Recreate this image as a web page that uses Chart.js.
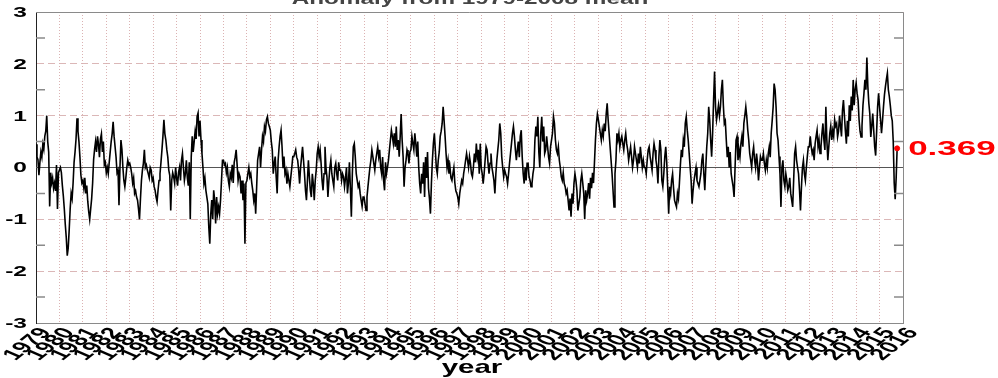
<!DOCTYPE html>
<html>
<head>
<meta charset="utf-8">
<script src="https://cdn.jsdelivr.net/npm/chart.js@4.4.1/dist/chart.umd.min.js"></script>
<style>
html, body { margin: 0; padding: 0; background: #fff; }
#wrap { width: 998px; height: 378px; }
</style>
</head>
<body>
<div id="wrap"><canvas id="anomaly-canvas" width="998" height="378"></canvas></div>
<script>
var startYear = 1979
var samplesPerYear = 24

// anomaly, 24 samples per year (last year ends in autumn 2015)
var anomaly = [
    0.45, 0.2, 0.15, -0.15, 0.1, 0.3, 0.2, 0.45, 0.35, 0.6, 0.7, 1.0, 0.5, 0.3, -0.75, -0.1, -0.3, -0.2, -0.4, -0.3, -0.45, 0.05, -0.8, -0.1,
    -0.05, 0.0, -0.1, -0.35, -0.55, -0.8, -1.1, -1.35, -1.7, -1.55, -1.2, -0.8, -0.5, -0.6, -0.3, 0.1, 0.3, 0.55, 0.95, 0.7, 0.5, 0.2, -0.15, -0.3,
    -0.25, -0.4, -0.2, -0.5, -0.35, -0.65, -0.85, -1.0, -0.8, -0.6, -0.3, 0.15, 0.35, 0.5, 0.3, 0.6, 0.45, 0.2, 0.55, 0.65, 0.3, 0.5, 0.05, 0.1,
    -0.1, 0.0, -0.12, 0.1, 0.3, 0.5, 0.65, 0.88, 0.6, 0.4, 0.2, -0.1, -0.05, -0.73, 0.0, 0.53, 0.35, 0.0, -0.25, -0.37, -0.2, 0.0, 0.14, 0.05,
    0.08, 0.0, -0.12, -0.3, -0.2, -0.5, -0.45, -0.57, -0.63, -0.8, -1.0, -0.6, -0.25, -0.05, 0.08, 0.34, 0.0, 0.05, -0.05, -0.12, -0.2, 0.0, -0.05, -0.25,
    -0.2, -0.37, -0.44, -0.57, -0.66, -0.44, -0.25, -0.12, 0.1, 0.34, 0.6, 0.92, 0.65, 0.53, 0.34, 0.2, -0.05, -0.15, -0.83, -0.25, -0.1, -0.18, -0.3, 0.0,
    -0.2, -0.35, -0.1, 0.0, -0.25, 0.14, 0.27, 0.0, -0.25, -0.12, 0.14, -0.2, -0.35, 0.1, -1.0, 0.2, 0.6, 0.3, 0.5, 0.7, 0.55, 0.98, 1.05, 0.6,
    0.9, 0.53, 0.27, 0.0, -0.31, -0.2, -0.44, -0.57, -0.7, -1.15, -1.47, -0.9, -0.63, -1.0, -0.44, -0.63, -1.08, -0.57, -0.89, -0.76, -0.89, -0.63, -0.25, 0.14,
    0.14, 0.05, 0.08, -0.1, 0.0, -0.25, -0.37, -0.12, -0.2, 0.05, -0.3, 0.1, 0.2, 0.34, 0.05, -0.25, -0.12, -0.18, -0.5, -0.25, -0.63, -0.31, -1.47, -0.3,
    -0.25, -0.12, 0.0, -0.18, -0.12, -0.3, -0.44, -0.63, -0.5, -0.89, -0.37, 0.14, 0.27, 0.4, 0.0, 0.34, 0.6, 0.5, 0.79, 0.7, 0.92, 0.98, 0.85, 0.79,
    0.72, 0.5, 0.34, -0.12, 0.08, 0.21, -0.18, -0.5, 0.14, 0.4, 0.6, 0.72, 0.4, 0.0, 0.21, -0.12, -0.05, -0.31, -0.12, -0.25, -0.37, -0.18, 0.0, 0.21,
    0.21, 0.27, 0.34, 0.2, 0.14, -0.05, -0.31, 0.0, 0.2, 0.4, 0.14, -0.12, -0.44, -0.63, -0.25, 0.14, -0.18, -0.44, -0.57, -0.12, -0.31, -0.63, -0.25, -0.05,
    0.27, 0.4, 0.21, 0.34, 0.08, -0.25, -0.44, -0.12, 0.4, 0.0, -0.18, -0.57, -0.25, 0.0, 0.14, -0.12, -0.25, -0.37, 0.0, 0.08, -0.12, -0.25, 0.1, -0.05,
    -0.05, -0.25, -0.12, -0.18, -0.37, -0.2, 0.0, -0.5, -0.3, 0.1, -0.4, -0.95, -0.12, 0.4, 0.46, 0.21, -0.12, -0.25, -0.37, -0.31, -0.5, -0.63, -0.75, -0.57,
    -0.57, -0.7, -0.83, -0.57, -0.37, -0.18, 0.0, 0.14, 0.34, 0.21, 0.08, -0.05, 0.14, 0.27, 0.4, 0.21, 0.34, 0.0, -0.12, 0.2, -0.25, -0.44, 0.1, -0.12,
    0.0, 0.14, 0.34, 0.53, 0.72, 0.6, 0.46, 0.66, 0.4, 0.79, 0.34, 0.53, 0.21, 0.6, 1.03, 0.53, 0.21, -0.37, 0.0, 0.14, 0.34, 0.27, 0.08, 0.3,
    0.34, 0.6, 0.46, 0.34, 0.66, 0.46, 0.21, 0.5, 0.0, -0.31, -0.5, -0.12, -0.31, 0.1, -0.57, 0.2, -0.2, 0.3, -0.4, -0.6, -0.89, -0.3, 0.14, 0.46,
    0.66, 0.34, 0.0, -0.12, 0.14, 0.3, 0.6, 0.7, 0.85, 1.17, 0.9, 0.6, 0.27, 0.0, 0.14, -0.12, 0.0, -0.2, -0.25, -0.12, 0.0, -0.3, -0.45, -0.5,
    -0.57, -0.7, -0.5, -0.37, -0.25, -0.31, -0.12, 0.0, 0.14, 0.27, 0.14, 0.0, 0.21, 0.08, -0.12, -0.18, 0.0, 0.27, 0.1, 0.46, 0.2, 0.34, -0.12, 0.46,
    0.0, -0.12, -0.31, -0.12, 0.14, 0.4, 0.34, 0.08, -0.12, 0.08, 0.27, 0.0, -0.12, -0.25, -0.5, -0.12, 0.14, 0.34, 0.53, 0.85, 0.66, 0.21, 0.0, -0.18,
    -0.05, -0.12, -0.18, -0.31, -0.12, 0.08, 0.27, 0.46, 0.66, 0.79, 0.6, 0.34, 0.14, 0.34, 0.5, 0.2, 0.6, 0.72, 0.2, -0.12, -0.31, 0.0, -0.25, 0.08,
    0.08, -0.18, -0.25, -0.37, -0.31, -0.12, 0.0, 0.53, 0.79, 0.6, 0.98, 0.3, 0.0, 0.66, 0.98, 0.5, 0.79, 0.27, 0.34, 0.6, 0.4, 0.2, 0.08, 0.4,
    0.53, 0.66, 0.98, 0.85, 0.53, 0.34, 0.27, 0.4, 0.14, 0.0, -0.18, -0.25, -0.1, -0.31, -0.37, -0.5, -0.44, -0.63, -0.83, -0.6, -0.95, -0.5, -0.7, -0.31,
    -0.12, -0.25, -0.44, -0.83, -0.7, -0.57, -0.25, -0.12, -0.3, -0.5, -1.0, -0.44, -0.63, -0.5, -0.3, -0.6, -0.2, -0.4, -0.1, -0.3, 0.1, 0.53, 0.85, 1.03,
    0.92, 0.79, 0.66, 0.53, 0.72, 0.6, 0.85, 0.7, 1.03, 1.24, 0.92, 0.66, 0.4, 0.14, -0.12, -0.44, -0.76, -0.12, 0.14, 0.66, 0.53, 0.66, 0.4, 0.53,
    0.6, 0.46, 0.34, 0.53, 0.66, 0.46, 0.34, 0.14, 0.27, 0.4, 0.21, 0.0, 0.14, 0.4, 0.27, 0.14, 0.0, 0.27, 0.08, 0.4, 0.2, 0.0, 0.14, 0.0,
    0.0, -0.12, 0.14, 0.34, 0.4, 0.21, 0.08, -0.05, 0.27, 0.46, 0.34, 0.14, 0.0, -0.31, 0.21, 0.53, 0.34, -0.25, -0.37, -0.12, 0.2, 0.4, 0.1, -0.37,
    -0.89, -0.37, -0.5, -0.25, -0.12, -0.4, -0.63, -0.7, -0.76, -0.5, -0.6, -0.3, 0.05, 0.34, 0.2, 0.53, 0.4, 0.85, 0.98, 0.72, 0.53, 0.27, 0.0, -0.25,
    -0.7, -0.44, -0.25, -0.12, 0.0, -0.25, -0.31, -0.37, -0.25, -0.12, 0.14, 0.27, -0.12, -0.44, 0.0, 0.4, 0.66, 1.17, 0.92, 0.53, 0.21, 0.66, 1.3, 1.85,
    1.17, 0.92, 1.05, 1.2, 1.0, 1.17, 1.5, 1.69, 1.2, 0.85, 0.9, 0.53, 0.2, 0.4, 0.0, 0.3, -0.12, -0.25, -0.37, -0.57, 0.0, 0.53, 0.6, 0.14,
    0.34, 0.2, 0.46, 0.6, 0.4, 0.85, 1.0, 1.17, 0.98, 0.72, 0.53, 0.27, 0.14, 0.0, 0.27, 0.4, 0.14, 0.0, 0.27, 0.08, -0.25, 0.0, 0.21, 0.14,
    0.14, 0.27, 0.08, -0.05, 0.14, 0.0, 0.27, 0.4, 0.2, 0.66, 0.9, 1.17, 1.62, 1.5, 1.17, 0.66, 0.53, 0.21, -0.12, -0.76, 0.0, 0.14, -0.25, -0.37,
    -0.12, -0.25, -0.44, -0.37, -0.2, -0.5, -0.63, -0.76, -0.25, 0.27, 0.4, 0.14, 0.0, -0.12, -0.44, -0.83, -0.37, 0.0, 0.14, -0.12, -0.25, 0.0, 0.21, 0.4,
    0.4, 0.6, 0.4, 0.27, 0.34, 0.14, 0.46, 0.6, 0.72, 0.4, 0.53, 0.27, 0.4, 0.66, 0.85, 0.53, 0.34, 1.17, 0.53, 0.14, 0.4, 0.66, 0.8, 0.53,
    0.71, 0.6, 0.92, 0.8, 0.85, 0.59, 0.7, 1.0, 0.8, 0.6, 1.1, 1.3, 1.0, 0.7, 0.46, 0.9, 0.6, 1.2, 0.9, 1.37, 1.1, 1.69, 1.2, 1.5,
    1.63, 1.43, 1.3, 0.92, 0.7, 0.59, 0.8, 1.2, 1.43, 1.69, 1.5, 2.12, 1.56, 1.24, 1.04, 0.59, 0.8, 1.04, 0.72, 0.4, 0.23, 0.7, 1.17, 1.43,
    1.17, 0.92, 0.66, 0.9, 1.17, 1.4, 1.56, 1.7, 1.82, 1.5, 1.37, 1.2, 1.0, 0.9, 0.5, -0.3, -0.61, -0.2, 0.369
]

var yearLabels = ['1979', '1980', '1981', '1982', '1983', '1984', '1985', '1986', '1987', '1988',
    '1989', '1990', '1991', '1992', '1993', '1994', '1995', '1996', '1997', '1998', '1999', '2000',
    '2001', '2002', '2003', '2004', '2005', '2006', '2007', '2008', '2009', '2010', '2011', '2012',
    '2013', '2014', '2015', '2016']
var valueLabels = ['3', '2', '1', '0', '-1', '-2', '-3']
var minorTicks = [2.5, 1.5, 0.5, -0.5, -1.5, -2.5]
var titleText = 'Anomaly from 1979-2008 mean'
var xTitle = 'year'
var lastValueLabel = '0.369'

var fontFamily = '"Liberation Sans", Arial, Helvetica, sans-serif'

function get_points(values) {
    var pts = []
    for (let i = 0; i < values.length; i++) {
        pts.push({x: startYear + i / samplesPerYear, y: values[i]})
    }
    return pts
}

// the picture is stretched sideways, so all its text is wide
function wideText(ctx, text, x, y, sx, align, baseline) {
    ctx.save()
    ctx.translate(x, y)
    ctx.scale(sx, 1)
    ctx.textAlign = align
    ctx.textBaseline = baseline
    ctx.fillText(text, 0, 0)
    ctx.restore()
}

var decorPlugin = {
    id: 'decor',
    afterDraw: function (chart) {
        var ctx = chart.ctx
        var area = chart.chartArea
        var xs = chart.scales.x
        var ys = chart.scales.y

        // top and right frame
        ctx.save()
        ctx.strokeStyle = '#8a8a8a'
        ctx.lineWidth = 1
        ctx.beginPath()
        ctx.moveTo(area.left, area.top + 0.5)
        ctx.lineTo(area.right + 0.5, area.top + 0.5)
        ctx.lineTo(area.right + 0.5, area.bottom)
        ctx.stroke()

        // half-step tick marks on both sides
        ctx.lineWidth = 1.5
        for (let i = 0; i < minorTicks.length; i++) {
            var py = ys.getPixelForValue(minorTicks[i])
            ctx.beginPath()
            ctx.moveTo(area.left, py)
            ctx.lineTo(area.left + 9, py)
            ctx.moveTo(area.right, py)
            ctx.lineTo(area.right - 9, py)
            ctx.stroke()
        }
        ctx.restore()

        ctx.save()
        ctx.fillStyle = '#000'
        ctx.font = 'bold 14px ' + fontFamily
        for (let i = 0; i < valueLabels.length; i++) {
            var ly = ys.getPixelForValue(Number(valueLabels[i]))
            wideText(ctx, valueLabels[i], area.left - 9, ly + 1, 1.75, 'right', 'middle')
        }

        ctx.font = 'bold 16px ' + fontFamily
        for (let i = 0; i < yearLabels.length; i++) {
            var lx = xs.getPixelForValue(Number(yearLabels[i]))
            ctx.save()
            ctx.translate(lx + 10, area.bottom + 7)
            ctx.scale(1.7, 1)
            ctx.rotate(-53 * Math.PI / 180)
            ctx.textAlign = 'right'
            ctx.textBaseline = 'middle'
            ctx.fillText(yearLabels[i], 0, 0)
            ctx.restore()
        }

        ctx.font = 'bold 19px ' + fontFamily
        wideText(ctx, xTitle, 472, 373, 1.55, 'center', 'alphabetic')

        ctx.fillStyle = '#444'
        ctx.font = 'bold 17px ' + fontFamily
        wideText(ctx, titleText, 470, 4, 1.43, 'center', 'alphabetic')

        var meta = chart.getDatasetMeta(2)
        var dot = meta.data[0]
        ctx.fillStyle = '#ff0000'
        ctx.font = 'bold 20px ' + fontFamily
        wideText(ctx, lastValueLabel, dot.x + 11, dot.y + 7, 1.75, 'left', 'alphabetic')
        ctx.restore()
    }
}

var points = get_points(anomaly)
var lastPoint = points[points.length - 1]

var ctx = document.getElementById('anomaly-canvas').getContext('2d')
var anomalyChart = new Chart(ctx, {
    type: 'line',
    data: {
        datasets: [{
            label: 'anomaly',
            data: points,
            borderColor: '#000',
            borderWidth: 1.6,
            pointRadius: 0,
            tension: 0,
            order: 1
        }, {
            label: 'zero',
            data: [{x: 1979, y: 0}, {x: 2016, y: 0}],
            borderColor: '#555',
            borderWidth: 1,
            pointRadius: 0,
            order: 2
        }, {
            label: 'latest',
            data: [lastPoint],
            showLine: false,
            pointRadius: 2.5,
            pointBackgroundColor: '#ff0000',
            pointBorderColor: '#ff0000',
            order: 0
        }]
    },
    options: {
        responsive: false,
        animation: false,
        events: [],
        layout: {padding: {left: 36, right: 95, top: 12, bottom: 55}},
        plugins: {
            legend: {display: false},
            tooltip: {enabled: false}
        },
        scales: {
            x: {
                type: 'linear',
                min: 1979,
                max: 2016,
                ticks: {display: false, stepSize: 1},
                grid: {color: 'rgba(215, 170, 170, 0.9)', lineWidth: 1, drawTicks: false},
                border: {color: '#8a8a8a', width: 1, dash: [1, 2]}
            },
            y: {
                min: -3,
                max: 3,
                ticks: {display: false, stepSize: 1},
                grid: {
                    color: function (c) {
                        var v = c.tick.value
                        return (v === 0 || Math.abs(v) === 3) ? 'rgba(0,0,0,0)' : 'rgba(215, 175, 175, 0.9)'
                    },
                    drawTicks: false
                },
                border: {color: '#222', width: 1, dash: [7, 4]}
            }
        }
    },
    plugins: [decorPlugin]
})
</script>
</body>
</html>
